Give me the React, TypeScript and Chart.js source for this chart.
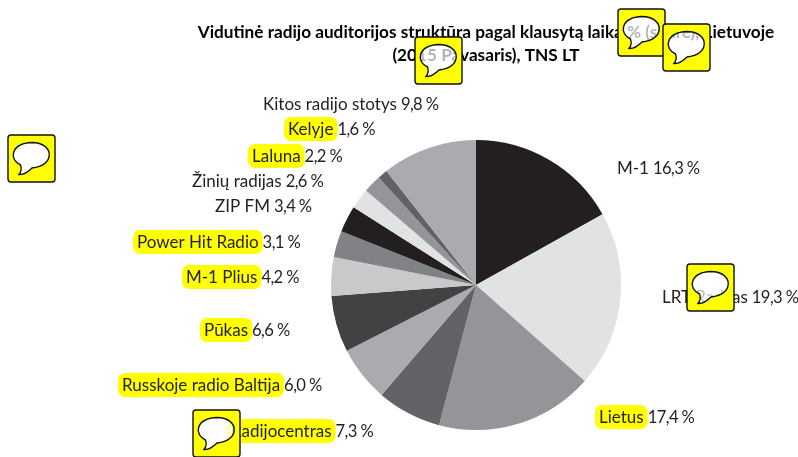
import { useEffect, useRef } from "react";
import { Chart, registerables } from "chart.js";

Chart.register(...registerables);

const titleLines = [
  "Vidutinė radijo auditorijos struktūra pagal klausytą laiką % (share), Lietuvoje",
  "(2015 Pavasaris), TNS LT",
];
const stations = [
  "M-1", "LRT Radijas", "Lietus", "Radijocentras", "Russkoje radio Baltija", "Pūkas",
  "M-1 Plius", "Power Hit Radio", "ZIP FM", "Žinių radijas", "Laluna", "Kelyje", "Kitos radijo stotys",
];
// Percentages as printed in the labels.
const printedShares = [16.3, 19.3, 17.4, 7.3, 6.0, 6.6, 4.2, 3.1, 3.4, 2.6, 2.2, 1.6, 9.8];
// Slice sizes as drawn in the picture (they differ a little from the printed figures).
const sliceShares = [16.9, 19.6, 17.6, 7.2, 6.2, 6.3, 4.3, 2.95, 2.95, 2.3, 2.0, 1.1, 10.6];
const highlighted = [false, false, true, true, true, true, true, true, false, false, true, true, false];
const sliceColors = [
  "#231f20", "#e1e2e4", "#939598", "#626366", "#a9abae", "#414244", "#c8c9cb",
  "#808285", "#231f20", "#e1e2e4", "#939598", "#626366", "#a9abae",
];
// Left edge and baseline of each slice's label.
const labelX = [617, 662, 599, 231, 122, 204, 186, 137, 215, 192, 252, 288, 263];
const labelY = [174, 303, 423, 437, 391, 336, 283, 248, 212, 187, 162, 135, 110];
// Top-left corners of the speech-bubble badges.
const badgeX = [8, 618, 663, 415, 193, 687];
const badgeY = [135, 9, 24, 37, 410, 264];

const TEXT = "#231f20";
const NAME_FONT = '17px Lato, "Noto Sans", sans-serif';
const VALUE_FONT = '16.6px Lato, "Noto Sans", sans-serif';
const TITLE_FONT = 'bold 17.2px Lato, "Noto Sans", sans-serif';

function bubblePath(x: number, y: number) {
  const p = new Path2D();
  p.moveTo(x + 12.5, y + 30);
  p.bezierCurveTo(x + 1, y + 25, x + 2, y + 8.5, x + 24, y + 7.5);
  p.bezierCurveTo(x + 47, y + 8, x + 47, y + 31, x + 24, y + 33);
  p.bezierCurveTo(x + 21, y + 36, x + 16, y + 40, x + 11, y + 39.5);
  p.bezierCurveTo(x + 13, y + 37, x + 14, y + 34, x + 12.5, y + 30);
  p.closePath();
  return p;
}

function roundedBox(x: number, y: number, w: number, h: number, r: number) {
  const p = new Path2D();
  p.roundRect(x, y, w, h, r);
  return p;
}

const annotations = {
  id: "annotations",
  afterDraw(chart: Chart) {
    const ctx = chart.ctx;
    ctx.save();
    ctx.textBaseline = "alphabetic";
    ctx.textAlign = "center";
    ctx.fillStyle = "#000";
    ctx.font = TITLE_FONT;
    ctx.fillText(titleLines[0], 486, 38);
    ctx.fillText(titleLines[1], 486, 61);

    ctx.textAlign = "left";
    stations.forEach((name, i) => {
      const x = labelX[i];
      const y = labelY[i];
      ctx.font = NAME_FONT;
      (ctx as any).letterSpacing = "0px";
      const w = ctx.measureText(name).width;
      if (highlighted[i]) {
        ctx.fillStyle = "#ffff00";
        ctx.fill(roundedBox(x - 4, y - 18, w + 8, 24, 7));
      }
      ctx.fillStyle = TEXT;
      ctx.fillText(name, x, y);
      ctx.font = VALUE_FONT;
      (ctx as any).letterSpacing = "-0.6px";
      ctx.fillText(`${printedShares[i].toFixed(1).replace(".", ",")} %`, x + w + 4, y);
    });

    badgeX.forEach((x, i) => {
      const y = badgeY[i];
      const bubble = bubblePath(x, y);
      const face = new Path2D();
      face.addPath(roundedBox(x, y, 47, 47, 3));
      face.addPath(bubble);
      ctx.fillStyle = "#ffff00";
      ctx.fill(face, "evenodd");
      ctx.fillStyle = "rgba(255,255,255,0.7)";
      ctx.fill(bubble);
      ctx.strokeStyle = "#111";
      ctx.lineWidth = 1.4;
      ctx.stroke(bubble);
      ctx.stroke(roundedBox(x, y, 47, 47, 3));
    });
    ctx.restore();
  },
};

export default function App() {
  const ref = useRef<HTMLCanvasElement>(null);
  useEffect(() => {
    document.body.style.margin = "0";
    const chart = new Chart(ref.current!, {
      type: "pie",
      data: {
        labels: stations,
        datasets: [{ data: sliceShares, backgroundColor: sliceColors, borderWidth: 0 }],
      },
      options: {
        animation: false,
        responsive: false,
        layout: { padding: { left: 331, right: 177, top: 140, bottom: 27 } },
        plugins: { legend: { display: false }, title: { display: false }, tooltip: { enabled: false } },
      },
      plugins: [annotations],
    });
    return () => chart.destroy();
  }, []);
  return <canvas ref={ref} width={798} height={457} style={{ display: "block" }} />;
}
